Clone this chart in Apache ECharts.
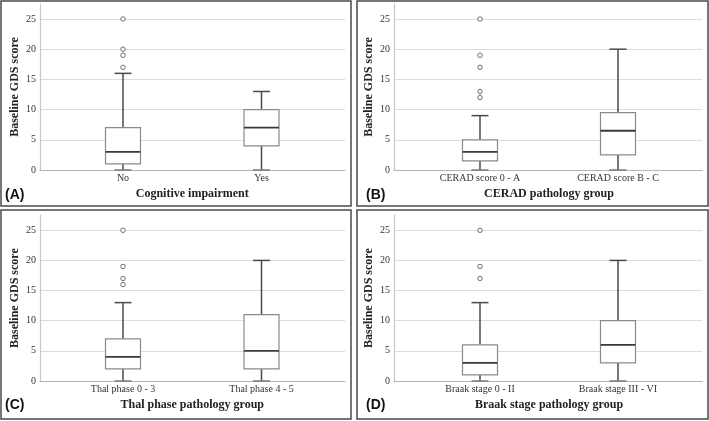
<!DOCTYPE html>
<html>
<head>
<meta charset="utf-8">
<script src="https://cdn.jsdelivr.net/npm/echarts@6/dist/echarts.min.js"></script>
<style>
html,body{margin:0;padding:0;background:#fff;}
#chart{width:709px;height:421px;}
</style>
</head>
<body>
<div id="chart"></div>
<script>
// ---------- data ----------
const panelLetters = ['(A)', '(B)', '(C)', '(D)'];
const xTitles = ['Cognitive impairment', 'CERAD pathology group', 'Thal phase pathology group', 'Braak stage pathology group'];
const yTitle = 'Baseline GDS score';
const yTicks = [0, 5, 10, 15, 20, 25];

const categoriesA = ['No', 'Yes'];
const categoriesB = ['CERAD score 0 - A', 'CERAD score B - C'];
const categoriesC = ['Thal phase 0 - 3', 'Thal phase 4 - 5'];
const categoriesD = ['Braak stage 0 - II', 'Braak stage III - VI'];

// [min, Q1, median, Q3, max]
const boxA = [[0, 1, 3, 7, 16], [0, 4, 7, 10, 13]];
const boxB = [[0, 1.5, 3, 5, 9], [0, 2.5, 6.5, 9.5, 20]];
const boxC = [[0, 2, 4, 7, 13], [0, 2, 5, 11, 20]];
const boxD = [[0, 1, 3, 6, 13], [0, 3, 6, 10, 20]];

// [category index, value]
const outliersA = [[0, 17], [0, 19], [0, 20], [0, 25]];
const outliersB = [[0, 12], [0, 13], [0, 17], [0, 19], [0, 25]];
const outliersC = [[0, 16], [0, 17], [0, 19], [0, 25]];
const outliersD = [[0, 17], [0, 19], [0, 25]];

// ---------- layout ----------
const serif = 'Liberation Serif';
const yMax = 27.5;
const panels = [
  {cats: categoriesA, box: boxA, out: outliersA, frame: {left: 40, right: 364, top: 3.9, bottom: 251}, data: {left: 53.75, right: 378.25, top: 3.9, bottom: 251}, rect: [1, 1, 350, 205], letter: [5, 195]},
  {cats: categoriesB, box: boxB, out: outliersB, frame: {left: 394, right: 7, top: 3.9, bottom: 251}, data: {left: 411, right: 22, top: 3.9, bottom: 251}, rect: [357, 1, 351, 205], letter: [366, 195]},
  {cats: categoriesC, box: boxC, out: outliersC, frame: {left: 40, right: 364, top: 215.2, bottom: 40}, data: {left: 53.75, right: 378.25, top: 215.2, bottom: 40}, rect: [1, 210, 350, 209], letter: [5, 405]},
  {cats: categoriesD, box: boxD, out: outliersD, frame: {left: 394, right: 7, top: 215.2, bottom: 40}, data: {left: 411, right: 22, top: 215.2, bottom: 40}, rect: [357, 210, 351, 209], letter: [366, 405]}
];

function renderBox(params, api) {
  const i = api.value(0);
  const p = [1, 2, 3, 4, 5].map(k => api.coord([i, api.value(k)]));
  const cx = p[0][0];
  const hw = 17.5, cw = 8.5;
  const whisk = {stroke: '#4a4a4a', lineWidth: 1.5};
  return {
    type: 'group',
    children: [
      {type: 'line', shape: {x1: cx, y1: p[4][1], x2: cx, y2: p[3][1]}, style: whisk},
      {type: 'line', shape: {x1: cx, y1: p[0][1], x2: cx, y2: p[1][1]}, style: whisk},
      {type: 'line', shape: {x1: cx - cw, y1: p[4][1], x2: cx + cw, y2: p[4][1]}, style: whisk},
      {type: 'line', shape: {x1: cx - cw, y1: p[0][1], x2: cx + cw, y2: p[0][1]}, style: {stroke: '#7a7a7a', lineWidth: 1.5}},
      {type: 'rect', shape: {x: cx - hw, y: p[3][1], width: 2 * hw, height: p[1][1] - p[3][1]}, style: {fill: '#fff', stroke: '#8a8a8a', lineWidth: 1.2}},
      {type: 'line', shape: {x1: cx - hw, y1: p[2][1], x2: cx + hw, y2: p[2][1]}, style: {stroke: '#3a3a3a', lineWidth: 1.8}}
    ]
  };
}

const grid = [], xAxis = [], yAxis = [], series = [], graphic = [];
panels.forEach((pn, k) => {
  const fi = 2 * k, di = 2 * k + 1;
  grid.push(Object.assign({}, pn.frame), Object.assign({}, pn.data));
  // frame axes
  xAxis.push({
    gridIndex: fi, type: 'value', min: 0, max: 1,
    axisLine: {show: true, lineStyle: {color: '#b4b4b4', width: 1.2}},
    axisTick: {show: false}, axisLabel: {show: false}, splitLine: {show: false}
  });
  yAxis.push({
    gridIndex: fi, type: 'value', min: yTicks[0], max: yMax, interval: yTicks[1] - yTicks[0],
    name: yTitle, nameLocation: 'middle', nameGap: 19, nameRotate: 90,
    nameTextStyle: {fontFamily: serif, fontWeight: 'bold', fontSize: 12, color: '#222'},
    axisLine: {show: true, lineStyle: {color: '#c8c8c8', width: 1.2}},
    axisTick: {show: false},
    axisLabel: {fontFamily: serif, fontSize: 10, color: '#333', margin: 4, showMaxLabel: false,
      formatter: v => (yTicks.indexOf(v) >= 0 ? String(v) : '')},
    splitLine: {show: true, showMaxLine: false, lineStyle: {color: '#dcdcdc', width: 1}}
  });
  // data axes
  xAxis.push({
    gridIndex: di, type: 'category', data: pn.cats,
    name: xTitles[k], nameLocation: 'middle', nameGap: 18,
    nameTextStyle: {fontFamily: serif, fontWeight: 'bold', fontSize: 12, color: '#222'},
    axisLine: {show: false}, axisTick: {show: false},
    axisLabel: {fontFamily: serif, fontSize: 10, color: '#333', margin: 3},
    splitLine: {show: false}
  });
  yAxis.push({gridIndex: di, type: 'value', min: yTicks[0], max: yMax, show: false});
  series.push({
    type: 'custom', xAxisIndex: di, yAxisIndex: di, renderItem: renderBox,
    encode: {x: 0, y: [1, 2, 3, 4, 5]},
    data: pn.box.map((b, i) => [i].concat(b)), z: 3
  });
  series.push({
    type: 'scatter', xAxisIndex: di, yAxisIndex: di, data: pn.out,
    symbol: 'circle', symbolSize: 4.5,
    itemStyle: {color: '#fff', borderColor: '#707070', borderWidth: 1, opacity: 1}, z: 4
  });
  graphic.push({
    type: 'rect', shape: {x: pn.rect[0], y: pn.rect[1], width: pn.rect[2], height: pn.rect[3]},
    style: {fill: 'none', stroke: '#4a4a4a', lineWidth: 1.5}, z: 10
  });
  graphic.push({
    type: 'text', x: pn.letter[0], y: pn.letter[1],
    style: {text: panelLetters[k], font: 'bold 14px "Liberation Sans"', fill: '#111', textVerticalAlign: 'middle', verticalAlign: 'middle'}, z: 10
  });
});

const chart = echarts.init(document.getElementById('chart'));
chart.setOption({animation: false, backgroundColor: '#fff', grid, xAxis, yAxis, series, graphic});
</script>
</body>
</html>
